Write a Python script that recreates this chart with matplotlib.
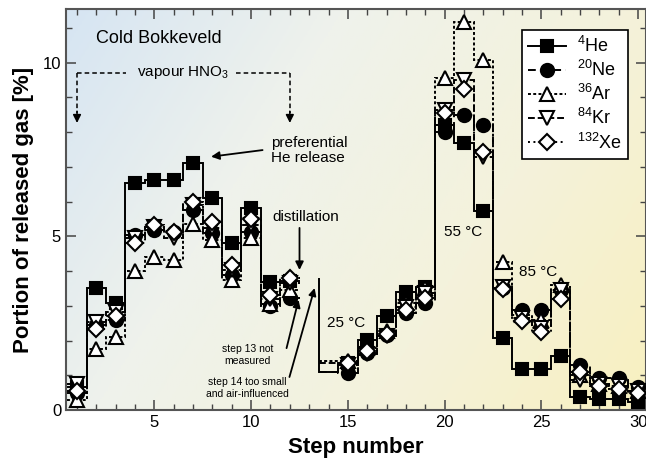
import numpy as np
import matplotlib
matplotlib.use('Agg')
import matplotlib.pyplot as plt
from matplotlib.ticker import MultipleLocator
from matplotlib.colors import LinearSegmentedColormap

plt.rcParams['font.family'] = ['Liberation Sans', 'DejaVu Sans']
plt.rcParams['mathtext.fontset'] = 'custom'
plt.rcParams['mathtext.rm'] = 'Liberation Sans'
plt.rcParams['mathtext.it'] = 'Liberation Sans:italic'

# Data: release per step (%), step 13 not measured, step 14 line only
steps_a = np.arange(1, 13)
steps_b = np.arange(14, 31)

he_a = [0.65, 3.50, 3.09, 6.54, 6.62, 6.62, 7.10, 6.11, 4.80, 5.80, 3.69, 3.72]
ne_a = [0.50, 2.45, 2.59, 5.04, 5.18, 5.13, 5.77, 5.08, 3.88, 5.13, 2.98, 3.21]
ar_a = [0.30, 1.75, 2.09, 4.01, 4.41, 4.32, 5.34, 4.89, 3.74, 4.94, 3.05, 3.45]
kr_a = [0.75, 2.54, 2.83, 4.94, 5.26, 4.94, 5.90, 5.23, 4.03, 5.32, 3.20, 3.65]
xe_a = [0.55, 2.32, 2.70, 4.80, 5.32, 5.13, 6.00, 5.42, 4.17, 5.49, 3.31, 3.79]

he_b = [1.10, 1.35, 2.01, 2.70, 3.39, 3.55, 8.20, 7.69, 5.74, 2.06, 1.17, 1.17, 1.56, 0.38, 0.31, 0.31, 0.24]
ne_b = [1.10, 1.07, 1.64, 2.15, 2.80, 3.09, 8.00, 8.49, 8.20, 3.50, 2.88, 2.88, 3.45, 1.29, 0.91, 0.91, 0.65]
ar_b = [1.40, 1.42, 1.78, 2.28, 3.07, 3.50, 9.56, 11.17, 10.07, 4.27, 2.73, 2.59, 3.60, 1.00, 0.75, 0.70, 0.55]
kr_b = [1.35, 1.30, 1.62, 2.12, 2.95, 3.36, 8.63, 9.50, 7.29, 3.55, 2.65, 2.35, 3.45, 0.86, 0.75, 0.70, 0.55]
xe_b = [1.40, 1.36, 1.71, 2.19, 2.88, 3.21, 8.54, 9.23, 7.43, 3.47, 2.57, 2.25, 3.18, 1.10, 0.69, 0.60, 0.48]

labels = ['$^{4}$He', '$^{20}$Ne', '$^{36}$Ar', '$^{84}$Kr', '$^{132}$Xe']
series_a = [he_a, ne_a, ar_a, kr_a, xe_a]
series_b = [he_b, ne_b, ar_b, kr_b, xe_b]
markers = ['s', 'o', '^', 'v', 'D']
faces = ['black', 'black', 'white', 'white', 'white']
sizes = [9, 9.5, 10, 10, 8]
styles = ['-', (0, (4, 2.5)), (0, (1.5, 1.2)), (0, (3.5, 1.5)), (0, (1, 1.8))]

fig = plt.figure(figsize=(6.46, 4.59), dpi=100)
ax = fig.add_axes([66 / 646, 49 / 459, 580 / 646, 401 / 459])

# background gradient
gx, gy = np.meshgrid(np.linspace(0, 1, 300), np.linspace(1, 0, 200))
t = 0.7 * gx + 0.3 * (1 - gy)
cmap = LinearSegmentedColormap.from_list('bg', ['#d6e5f3', '#eff2ec', '#f4f2dc', '#f8f0c0'])
ax.imshow(t, cmap=cmap, extent=[0, 1, 0, 1], transform=ax.transAxes,
          aspect='auto', zorder=0, vmin=0, vmax=1)

for i in range(5):
    ax.stairs(series_a[i], np.arange(0.5, 13.0), baseline=None, color='black',
              linestyle=styles[i], lw=1.4, zorder=2)
    ax.stairs(series_b[i], np.arange(13.5, 31.0), baseline=None, color='black',
              linestyle=styles[i], lw=1.4, zorder=2)
for i in range(5):
    xs = np.concatenate([steps_a, steps_b[1:]])
    ys = np.concatenate([series_a[i], series_b[i][1:]])
    ax.plot(xs, ys, linestyle='none', marker=markers[i], ms=sizes[i],
            mfc=faces[i], mec='black', mew=1.5, zorder=3 + i)

# step 14 left edge
ax.plot([13.5, 13.5], [he_b[0], 3.77], color='black', lw=1.4, zorder=2)

# legend proxies
handles = []
for i in range(5):
    h, = ax.plot([], [], color='black', linestyle=styles[i], lw=1.4,
                 marker=markers[i], ms=sizes[i], mfc=faces[i], mec='black', mew=1.5)
    handles.append(h)
leg = ax.legend(handles, labels, loc='upper right', bbox_to_anchor=(0.969, 0.948),
                borderaxespad=0, fontsize=13, handlelength=2.1, fancybox=False,
                framealpha=1, edgecolor='black', labelspacing=0.22,
                handletextpad=0.6, borderpad=0.35)
leg.get_frame().set_linewidth(1.2)

ax.set_xlim(0.43, 30.41)
ax.set_ylim(0, 11.54)
ax.xaxis.set_major_locator(MultipleLocator(5))
ax.xaxis.set_minor_locator(MultipleLocator(1))
ax.yaxis.set_major_locator(MultipleLocator(5))
ax.yaxis.set_minor_locator(MultipleLocator(1))
ax.tick_params(which='both', direction='in', top=True, right=True, labelsize=12,
               color='#444444')
ax.tick_params(which='major', length=7, width=1.1)
ax.tick_params(which='minor', length=4, width=1.0)
for sp in ax.spines.values():
    sp.set_color('#555555')
    sp.set_linewidth(1.5)

ax.set_xlabel('Step number', fontsize=16, fontweight='bold', labelpad=5)
ax.set_ylabel('Portion of released gas [%]', fontsize=16, fontweight='bold', labelpad=6)

# annotations
ax.text(2.0, 10.7, 'Cold Bokkeveld', fontsize=13, va='center', ha='left')
ax.text(6.5, 9.70, 'vapour HNO$_3$', fontsize=11, va='center', ha='center')
dash = (0, (3, 2))
ax.plot([1.0, 3.55], [9.70, 9.70], color='black', lw=1.1, linestyle=dash)
ax.plot([9.24, 12.0], [9.70, 9.70], color='black', lw=1.1, linestyle=dash)
ax.plot([1.0, 1.0], [9.70, 8.55], color='black', lw=1.1, linestyle=dash)
ax.plot([12.0, 12.0], [9.70, 8.55], color='black', lw=1.1, linestyle=dash)
for xa in [1.0, 12.0]:
    ax.annotate('', xy=(xa, 8.26), xytext=(xa, 8.6),
                arrowprops=dict(arrowstyle='-|>', color='black', lw=1.1,
                                mutation_scale=12, shrinkA=0, shrinkB=0))

ax.text(11.05, 7.48, 'preferential\nHe release', fontsize=11, va='center', ha='left',
        linespacing=1.1)
ax.annotate('', xy=(7.93, 7.29), xytext=(10.59, 7.48),
            arrowprops=dict(arrowstyle='-|>', color='black', lw=1.3,
                            mutation_scale=12, shrinkA=0, shrinkB=0))

ax.text(12.8, 5.55, 'distillation', fontsize=11, va='center', ha='center')
ax.annotate('', xy=(12.5, 4.03), xytext=(12.5, 5.24),
            arrowprops=dict(arrowstyle='-|>', color='black', lw=1.3,
                            mutation_scale=12, shrinkA=0, shrinkB=0))

ax.text(9.81, 1.58, 'step 13 not\nmeasured', fontsize=7.5, va='center', ha='center',
        linespacing=1.3)
ax.annotate('', xy=(12.45, 3.17), xytext=(11.83, 1.78),
            arrowprops=dict(arrowstyle='-|>', color='black', lw=1.3,
                            mutation_scale=11, shrinkA=0, shrinkB=0))
ax.text(9.8, 0.63, 'step 14 too small\nand air-influenced', fontsize=7.5, va='center',
        ha='center', linespacing=1.3)
ax.annotate('', xy=(13.28, 3.51), xytext=(11.98, 0.95),
            arrowprops=dict(arrowstyle='-|>', color='black', lw=1.3,
                            mutation_scale=11, shrinkA=0, shrinkB=0))

ax.text(14.93, 2.5, '25 °C', fontsize=11, va='center', ha='center')
ax.text(20.98, 5.12, '55 °C', fontsize=11, va='center', ha='center')
ax.text(24.81, 3.97, '85 °C', fontsize=11, va='center', ha='center')

fig.savefig('out.png', dpi=100)
